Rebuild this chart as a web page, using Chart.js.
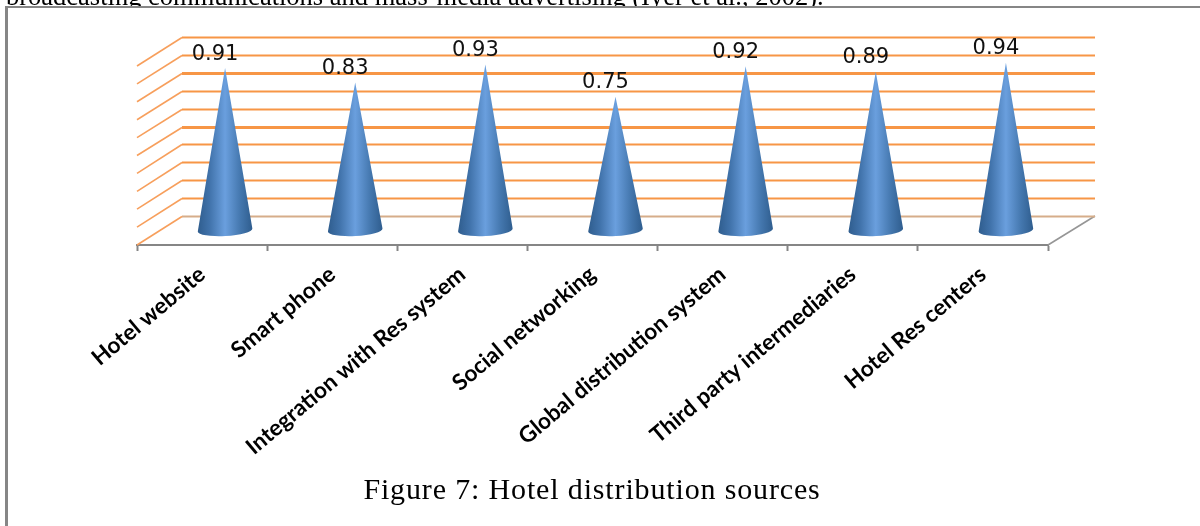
<!DOCTYPE html>
<html>
<head>
<meta charset="utf-8">
<script src="https://cdn.jsdelivr.net/npm/chart.js@4"></script>
<style>
html,body{margin:0;padding:0;background:#fff;overflow:hidden}
#wrap{position:relative;width:1200px;height:526px}
canvas{position:absolute;left:0;top:0}
</style>
</head>
<body>
<div id="wrap"><canvas id="c" width="1200" height="526"></canvas></div>
<script>
const categories = ["Hotel website","Smart phone","Integration with Res system","Social networking","Global distribution system","Third party intermediaries","Hotel Res centers"];
const values = [0.91,0.83,0.93,0.75,0.92,0.89,0.94];
const bodyText = "broadcasting communications and mass-media advertising (Iyer et al., 2002).";
const captionText = "Figure 7: Hotel distribution sources";

const DEPTH_X = 45, DEPTH_Y = 29;
const heavyTicks = [0.8, 0.5];

const scene = {
  id: 'scene',
  beforeDatasetsDraw(chart) {
    const ctx = chart.ctx, y = chart.scales.y, a = chart.chartArea;
    ctx.save();
    // running text, clipped by the top of the page
    ctx.fillStyle = '#000';
    ctx.font = '26.5px "Liberation Serif"';
    ctx.textAlign = 'left';
    ctx.textBaseline = 'alphabetic';
    ctx.fillText(bodyText, 6, 5);
    // page frame
    ctx.fillStyle = '#fff';
    ctx.fillRect(0, 8, 1200, 6);
    ctx.fillStyle = '#868686';
    ctx.fillRect(5, 6, 3, 520);
    ctx.fillRect(5, 6, 1195, 2);
    // caption
    ctx.fillStyle = '#000';
    ctx.font = '30px "Liberation Serif"';
    ctx.letterSpacing = '0.85px';
    ctx.textAlign = 'center';
    ctx.fillText(captionText, 592, 499);
    ctx.letterSpacing = '0px';
    // floor right edge
    ctx.strokeStyle = '#969696';
    ctx.lineWidth = 1.6;
    ctx.beginPath();
    ctx.moveTo(a.right, a.bottom);
    ctx.lineTo(a.right + DEPTH_X + 2, a.bottom - DEPTH_Y);
    ctx.stroke();
    // wall and side grid from the value scale
    y.ticks.forEach(t => {
      const py = y.getPixelForValue(t.value);
      const back = Math.round(py - DEPTH_Y) + 0.5;
      const heavy = heavyTicks.some(v => Math.abs(v - t.value) < 1e-6);
      ctx.strokeStyle = t.value === 0 ? '#d6ad8a' : '#f79646';
      ctx.lineWidth = heavy ? 3 : 2;
      ctx.beginPath();
      ctx.moveTo(a.left + DEPTH_X, back);
      ctx.lineTo(a.right + DEPTH_X + 2, back);
      ctx.stroke();
      ctx.strokeStyle = '#f79f5c';
      ctx.lineWidth = 1.6;
      ctx.beginPath();
      ctx.moveTo(a.left, py);
      ctx.lineTo(a.left + DEPTH_X, back);
      ctx.stroke();
    });
    ctx.restore();
  },
  afterDatasetsDraw(chart) {
    const ctx = chart.ctx;
    const meta = chart.getDatasetMeta(0);
    ctx.save();
    meta.data.forEach((bar, i) => {
      const cx = bar.x + 23;
      const tip = bar.y - 14;
      const by = bar.base - 15;
      const rx = bar.width / 2, ry = 6;
      const tilt = -0.055;
      const g = ctx.createLinearGradient(cx - rx, 0, cx + rx, 0);
      g.addColorStop(0, '#2f5d8e');
      g.addColorStop(0.22, '#4173ab');
      g.addColorStop(0.5, '#6a9fde');
      g.addColorStop(0.78, '#4477ae');
      g.addColorStop(1, '#2f5d8e');
      ctx.fillStyle = g;
      ctx.beginPath();
      ctx.moveTo(cx, tip);
      ctx.lineTo(cx + rx * Math.cos(tilt), by + rx * Math.sin(tilt));
      ctx.ellipse(cx, by, rx, ry, tilt, 0, Math.PI);
      ctx.closePath();
      ctx.fill();
      ctx.fillStyle = '#111';
      ctx.font = '21px "DejaVu Sans"';
      ctx.textAlign = 'center';
      ctx.textBaseline = 'middle';
      ctx.fillText(values[i].toFixed(2), cx - 10, tip - 14);
    });
    ctx.restore();
  }
};

new Chart(document.getElementById('c'), {
  type: 'bar',
  data: {
    labels: categories,
    datasets: [{
      data: values,
      backgroundColor: 'rgba(0,0,0,0)',
      borderWidth: 0,
      barPercentage: 0.84,
      categoryPercentage: 0.5
    }]
  },
  options: {
    responsive: false,
    animation: false,
    layout: { padding: { left: 137, right: 152, top: 66, bottom: 0 } },
    plugins: { legend: { display: false }, tooltip: { enabled: false }, title: { display: false } },
    scales: {
      x: {
        afterFit(s) { s.height = 281; },
        grid: { display: true, drawOnChartArea: false, drawTicks: true, tickLength: 6, tickWidth: 2, color: '#868686', offset: true },
        border: { display: true, color: '#868686', width: 2 },
        ticks: {
          autoSkip: false, minRotation: 40, maxRotation: 40,
          color: '#000', padding: 10,
          font: { family: 'Lato', weight: 'bold', size: 22.5 }
        }
      },
      y: {
        min: 0, max: 1,
        afterFit(s) { s.width = 0; },
        grid: { display: false },
        border: { display: false },
        ticks: { display: false, stepSize: 0.1 }
      }
    }
  },
  plugins: [scene]
});
</script>
</body>
</html>
